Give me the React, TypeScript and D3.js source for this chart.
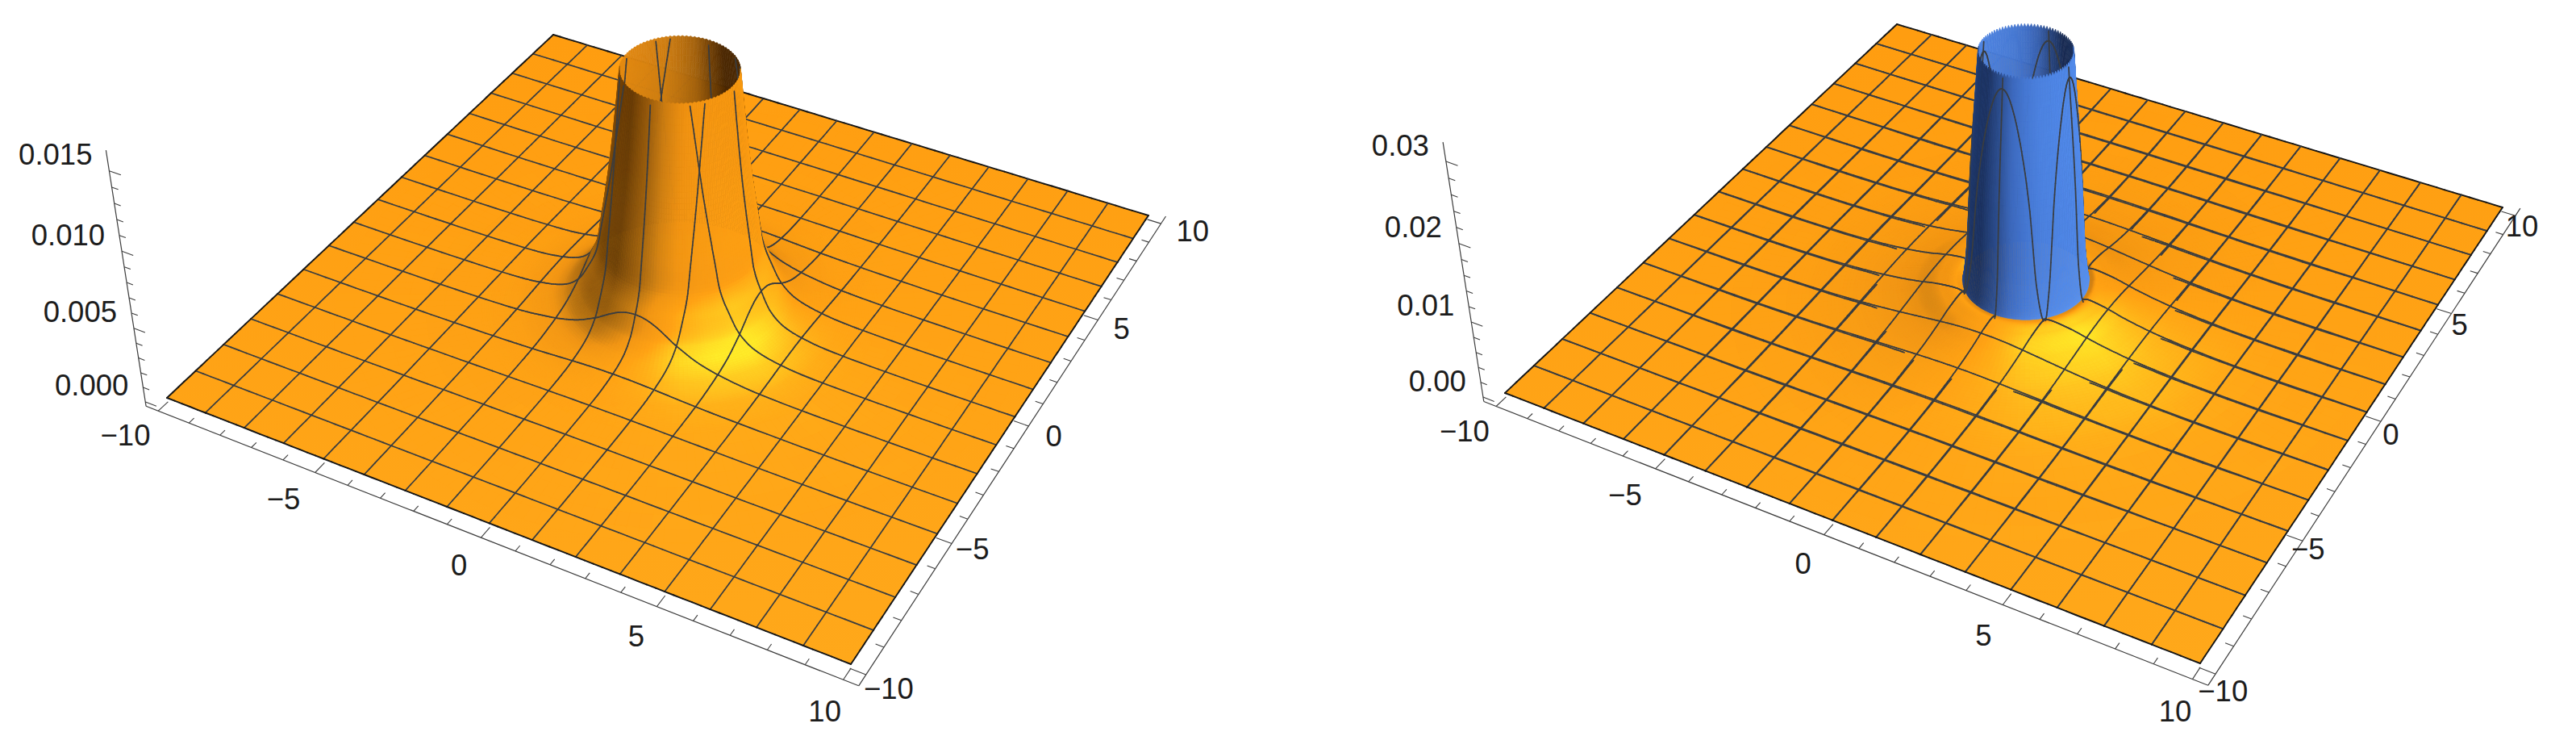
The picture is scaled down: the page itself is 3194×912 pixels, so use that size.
import React, { useMemo } from "react";
import * as d3 from "d3";

// mesh + tick values
const meshLines = d3.range(-8, 9).map((k) => k * 1.25);
const xyTicks = d3.range(-10, 11);
const xyLabels = [-10, -5, 0, 5, 10];

// radial height profiles (radius, height)
const leftR = [0.5, 1, 1.55, 1.87, 2.13, 2.27, 2.5, 2.8, 3.2, 3.7, 4.5, 5.5, 7, 9, 15];
const leftZ = [0.06, 0.03, 0.016, 0.0096, 0.0058, 0.004, 0.0027, 0.0015, 0.0008, 0.00045, 0.0002, 0.0001, 0.00004, 0.00001, 0];
const hillR = [0.5, 1, 1.72, 1.9, 2.3, 3, 3.5, 4.1, 5, 6, 7, 8, 9, 10, 12, 15];
const hillZ = [0.0002, 0.001, 0.0022, 0.0024, 0.0022, 0.0015, 0.0011, 0.00075, 0.00042, 0.0002, 0.0001, 0.00006, 0.00004, 0.00002, 0.00001, 0];
const spikeR = [0.5, 1, 1.21, 1.25, 1.47, 1.6, 1.72, 1.85, 2.1, 3, 4.1, 5, 6, 7, 8, 9, 10, 12, 15];
const spikeZ = [0.2, 0.05, 0.0327, 0.0301, 0.0165, 0.0062, 0.0022, 0.0012, 0.0007, 0.0004, 0.00045, 0.00022, 0.00006, -0.00004, -0.00008, -0.00005, -0.00003, -0.00001, 0];

// shading: azimuth (deg from the viewer direction) -> light amount, for walls and for gentle slopes
const azDeg = [-180, -150, -120, -90, -70, -50, -30, -15, 0, 15, 35, 50, 70, 90, 120, 150, 180];
const azWall = [0.4, 0.2, 0.1, 0.2, 0.08, 0.05, 0.3, 0.55, 0.68, 0.76, 0.8, 0.82, 0.85, 0.85, 0.35, 0.25, 0.4];
const azSlope = [-0.1, -0.3, -0.5, -0.6, -0.6, -0.5, 0.05, 0.35, 0.85, 1.05, 1.2, 0.85, 0.3, -0.1, -0.4, -0.4, -0.1];
const orangeStops = [0, 0.6, 0.8, 1, 1.2, 1.38];
const orangeColors = ["#4a2600", "#c07410", "#f09010", "#ff9d10", "#ffc51c", "#ffe524"];
const blueStops = [0, 0.6, 0.85, 1.1];
const blueColors = ["#16284f", "#3d6abf", "#5088e8", "#62a0ff"];

type Pt = [number, number];
const fmtTick = (s: string) => s.replace("-", "\u2212");

function pchip(xs: number[], ys: number[]) {
  const n = xs.length;
  const h = d3.range(n - 1).map((i) => xs[i + 1] - xs[i]);
  const dl = d3.range(n - 1).map((i) => (ys[i + 1] - ys[i]) / h[i]);
  const m = new Array(n).fill(0);
  m[0] = dl[0];
  m[n - 1] = dl[n - 2];
  for (let i = 1; i < n - 1; i++) {
    if (dl[i - 1] * dl[i] > 0) {
      const w1 = 2 * h[i] + h[i - 1];
      const w2 = h[i] + 2 * h[i - 1];
      m[i] = (w1 + w2) / (w1 / dl[i - 1] + w2 / dl[i]);
    }
  }
  const bis = d3.bisector((d: number) => d).right;
  return (x: number) => {
    if (x <= xs[0]) return ys[0];
    if (x >= xs[n - 1]) return ys[n - 1];
    const i = Math.min(n - 2, bis(xs, x) - 1);
    const t = (x - xs[i]) / h[i];
    const t2 = t * t;
    const t3 = t2 * t;
    return (2 * t3 - 3 * t2 + 1) * ys[i] + (t3 - 2 * t2 + t) * h[i] * m[i] + (-2 * t3 + 3 * t2) * ys[i + 1] + (t3 - t2) * h[i] * m[i + 1];
  };
}

const unit = d3.scaleLinear().domain([-10, 10]).range([0, 1]);
const PAD = 10.4;
const LINE = "#3a3d40";

function makeCamera(q: Pt[], vx: number, vy: number, zRef: number, sRef: number) {
  const [[x0, y0], [x1, y1], [x2, y2], [x3, y3]] = q;
  const dx1 = x1 - x2, dx2 = x3 - x2, sx = x0 - x1 + x2 - x3;
  const dy1 = y1 - y2, dy2 = y3 - y2, sy = y0 - y1 + y2 - y3;
  const den = dx1 * dy2 - dx2 * dy1;
  const g = (sx * dy2 - dx2 * sy) / den;
  const h = (dx1 * sy - sx * dy1) / den;
  const a = x1 - x0 + g * x1, b = x3 - x0 + h * x3, c = x0;
  const d = y1 - y0 + g * y1, e = y3 - y0 + h * y3, f = y0;
  const wA = g * unit(-PAD) + h * unit(-PAD) + 1;
  const cz = (sRef / zRef) * wA;
  const project = (x: number, y: number, z: number): Pt => {
    const u = unit(x), v = unit(y);
    const w = g * u + h * v + 1 + cz * z;
    return [(a * u + b * v + c + vx * cz * z) / w, (d * u + e * v + f + vy * cz * z) / w];
  };
  // ground point below the camera
  const A11 = a - g * vx, A12 = b - h * vx, B1 = vx - c;
  const A21 = d - g * vy, A22 = e - h * vy, B2 = vy - f;
  const D = A11 * A22 - A12 * A21;
  const nu = (B1 * A22 - A12 * B2) / D, nv = (A11 * B2 - A21 * B1) / D;
  const nadir: Pt = [unit.invert(nu), unit.invert(nv)];
  return { project, nadir };
}

type PanelCfg = {
  corners: Pt[]; vx: number; vy: number; zRef: number; sRef: number; z0: number; zAxisTop: number;
  zTop: number; zScale: number; jag: number; main: (r: number) => number; hill?: (r: number) => number;
  zTicks: number[]; zMajor: number[]; zDigits: number;
  xShift: Pt; yShift: Pt; tenShift: number;
};

function buildPanel(p: PanelCfg) {
  const cam = makeCamera(p.corners, p.vx, p.vy, p.zRef, p.sRef);
  const P = cam.project;
  const [nx, ny] = cam.nadir;
  const nl = Math.hypot(nx, ny);
  const fx = nx / nl, fy = ny / nl;
  const rx = -fy, ry = fx;
  const key = (x: number, y: number) => Math.hypot(x - nx, y - ny);
  const wallLight = d3.scaleLinear().domain(azDeg).range(azWall).clamp(true);
  const slopeLight = d3.scaleLinear().domain(azDeg).range(azSlope).clamp(true);
  const orange = d3.scaleLinear<string>().domain(orangeStops).range(orangeColors).interpolate(d3.interpolateRgb).clamp(true);
  const blue = d3.scaleLinear<string>().domain(blueStops).range(blueColors).interpolate(d3.interpolateRgb).clamp(true);
  const shift = d3.scaleLinear().domain([43, 823]).range([0, 11]).clamp(true);

  const hill = p.hill;
  const height = (r: number) => (hill ? Math.max(p.main(r), hill(r)) : p.main(r));
  const bisect = (fn: (r: number) => number, lo: number, hi: number) => {
    for (let i = 0; i < 40; i++) {
      const m = (lo + hi) / 2;
      if (fn(m) > 0) lo = m; else hi = m;
    }
    return (lo + hi) / 2;
  };
  const r0 = bisect((r) => p.main(r) - p.zTop, 0.6, 4);
  const rb = hill ? bisect((r) => p.main(r) - hill(r), r0, 3) : r0;
  const rings = hill
    ? [...d3.range(r0, rb, 0.012), ...d3.range(rb, 3.5, 0.03), ...d3.range(3.5, 6.5, 0.1), ...d3.range(6.5, 9.9, 0.5)]
    : [...d3.range(r0, 3, 0.02), ...d3.range(3, 5.5, 0.06), ...d3.range(5.5, 9.9, 0.5)];
  const nTheta = 180;
  const dTheta = (2 * Math.PI) / nTheta;

  type Item = { k: number; d: string; fill?: string; stroke?: string; w?: number };
  const items: Item[] = [];
  const path = (pts: Pt[]) => "M" + pts.map((q) => q[0].toFixed(1) + " " + q[1].toFixed(1)).join("L");

  for (let ri = 0; ri < rings.length - 1; ri++) {
    const a = rings[ri], b = rings[ri + 1];
    const rc = (a + b) / 2;
    const isTop = !!hill && rc < rb;
    const zNow = isTop || !hill ? p.main : hill;
    const dz = ((zNow(rc + 0.004) - zNow(rc - 0.004)) / 0.008) * p.zScale;
    const za = height(a), zb = height(b);
    for (let i = 0; i < nTheta; i++) {
      const t1 = i * dTheta, t2 = (i + 1) * dTheta, tc = (i + 0.5) * dTheta;
      const zaL = ri === 0 ? za - (i % 2 ? p.jag : 0) : za;
      const zaR = ri === 0 ? za - ((i + 1) % 2 ? p.jag : 0) : za;
      const c1 = Math.cos(t1), s1 = Math.sin(t1), c2 = Math.cos(t2), s2 = Math.sin(t2);
      const q: Pt[] = [
        P(a * c1, a * s1, zaL), P(b * c1, b * s1, zb), P(b * c2, b * s2, zb), P(a * c2, a * s2, zaR),
      ];
      const area = (q[2][0] - q[0][0]) * (q[3][1] - q[1][1]) - (q[3][0] - q[1][0]) * (q[2][1] - q[0][1]);
      const g0 = [P(a * c1, a * s1, 0), P(b * c1, b * s1, 0), P(b * c2, b * s2, 0), P(a * c2, a * s2, 0)];
      const areaG = (g0[2][0] - g0[0][0]) * (g0[3][1] - g0[1][1]) - (g0[3][0] - g0[1][0]) * (g0[2][1] - g0[0][1]);
      const flip = area * areaG < 0 ? -1 : 1;
      const len = Math.hypot(dz, 1);
      let nX = (-dz * Math.cos(tc)) / len, nY = (-dz * Math.sin(tc)) / len, nU = 1 / len;
      nX *= flip; nY *= flip; nU *= flip;
      const nR = nX * rx + nY * ry, nF = nX * fx + nY * fy;
      const tilt = Math.hypot(nR, nF);
      const az = (Math.atan2(nR, nF) * 180) / Math.PI;
      const mix = tilt * tilt;
      const I = nU + tilt * (wallLight(az) * mix + slopeLight(az) * (1 - mix));
      let fill: string;
      if (isTop) fill = blue(I);
      else {
        const col = d3.rgb(orange(I));
        const dG = shift((q[0][1] + q[2][1]) / 2);
        col.g = Math.min(255, col.g + dG);
        col.b = col.b + dG * 0.9;
        fill = col.formatHex();
      }
      items.push({ k: key(rc * Math.cos(tc), rc * Math.sin(tc)), d: path(q) + "Z", fill });
    }
  }

  // mesh lines
  const addLine = (fixed: number, isX: boolean, fn: (r: number) => number, show: (r: number) => boolean, stroke: string, w: number) => {
    let t = -10;
    while (t < 10) {
      const probe = Math.hypot(fixed, t);
      const step = probe < 2.4 ? 0.02 : probe < 5 ? 0.06 : 0.25;
      const t2 = Math.min(10, t + step);
      const pos = (u: number): Pt => (isX ? [fixed, u] : [u, fixed]);
      const [ax, ay] = pos(t), [bx, by] = pos(t2);
      const ra = Math.hypot(ax, ay), rb2 = Math.hypot(bx, by);
      const rm = (ra + rb2) / 2;
      if (ra >= r0 && rb2 >= r0 && show(rm)) {
        const bias = rm > 5 ? 1.6 : 0.2;
        items.push({
          k: key((ax + bx) / 2, (ay + by) / 2) - bias,
          d: path([P(ax, ay, fn(ra)), P(bx, by, fn(rb2))]),
          stroke, w,
        });
      }
      t = t2;
    }
  };
  for (const v of meshLines) {
    const edge = Math.abs(v) === 10;
    const s = edge ? "#161616" : LINE;
    const w = edge ? 1.9 : 1.7;
    for (const isX of [true, false]) {
      if (hill) {
        const h = hill, m = p.main;
        addLine(v, isX, h, (r) => h(r) >= m(r), s, w);
        if (!edge) addLine(v, isX, m, (r) => m(r) >= h(r) - 0.0003, s, w);
      } else addLine(v, isX, p.main, () => true, s, w);
    }
  }
  items.sort((a, b) => b.k - a.k);

  // axes
  const ax: Item[] = [];
  const axLine = (a: Pt, b: Pt, w = 1.2) => ax.push({ k: 0, d: path([a, b]), stroke: "#3d3d3d", w });
  axLine(P(-PAD, -PAD, p.z0), P(PAD, -PAD, p.z0));
  axLine(P(PAD, -PAD, p.z0), P(PAD, PAD, p.z0));
  axLine(P(-PAD, -PAD, p.z0), P(-PAD, -PAD, p.zAxisTop));
  for (const t of xyTicks) {
    const maj = xyLabels.includes(t);
    const l = maj ? 0.42 : 0.22;
    axLine(P(t, -PAD, p.z0), P(t, -PAD + l, p.z0), 1.1);
    axLine(P(PAD, t, p.z0), P(PAD - l, t, p.z0), 1.1);
  }
  for (const z of p.zTicks) {
    const maj = p.zMajor.includes(z);
    const l = maj ? 0.36 : 0.2;
    axLine(P(-PAD, -PAD, z), P(-PAD + l, -PAD, z), 1.1);
  }
  const labels: { x: number; y: number; s: string; anchor: string }[] = [];
  for (const t of xyLabels) {
    const a = P(t, -PAD - 1.25, p.z0);
    labels.push({ x: a[0] + p.xShift[0] - (t < 0 ? 10 : 0), y: a[1] + p.xShift[1], s: fmtTick(String(t)), anchor: "middle" });
    const b = P(PAD + 1.25, t, p.z0);
    labels.push({
      x: b[0] + p.yShift[0] - (t < 0 ? 8 : 0) + (t === 10 ? p.tenShift : 0),
      y: b[1] + p.yShift[1] - (t === -5 ? 8 : 0),
      s: fmtTick(String(t)), anchor: "middle",
    });
  }
  for (const z of p.zMajor) {
    const a = P(-PAD, -PAD, z);
    labels.push({ x: a[0] - 21, y: a[1] - 20, s: z.toFixed(p.zDigits), anchor: "end" });
  }
  const ground = path(p.corners) + "Z";
  return { items, ax, labels, ground };
}

const leftCorners: Pt[] = [[207, 493], [1055, 823], [1424, 267], [686, 43]];
const rightCorners: Pt[] = [[1866, 487], [2728, 822], [3103, 257], [2352, 30]];
const leftZTicks = d3.range(0, 16).map((i) => i / 1000);
const leftZMajor = [0, 0.005, 0.01, 0.015];
const rightZTicks = d3.range(0, 16).map((i) => (i * 2) / 1000);
const rightZMajor = [0, 0.01, 0.02, 0.03];

function Panel({ cfg, id }: { cfg: PanelCfg; id: string }) {
  const b = useMemo(() => buildPanel(cfg), [cfg]);
  return (
    <g>
      <defs>
        <linearGradient id={id} gradientUnits="userSpaceOnUse" x1="0" x2="0" y1="43" y2="823">
          <stop offset="0" stopColor="#ff9d10" />
          <stop offset="1" stopColor="#ffa81a" />
        </linearGradient>
      </defs>
      {b.ax.map((l, i) => (
        <path key={i} d={l.d} stroke={l.stroke} strokeWidth={l.w} fill="none" />
      ))}
      <path d={b.ground} fill={`url(#${id})`} />
      {b.items.map((it, i) =>
        it.fill ? (
          <path key={i} d={it.d} fill={it.fill} stroke={it.fill} strokeWidth={0.6} />
        ) : (
          <path key={i} d={it.d} fill="none" stroke={it.stroke} strokeWidth={it.w} strokeLinecap="round" />
        )
      )}
      {b.labels.map((t, i) => (
        <text key={i} x={t.x} y={t.y} textAnchor={t.anchor} dominantBaseline="central" fontFamily="'Liberation Sans', Arial, sans-serif" fontSize={36.5} fill="#1c1c1c">
          {t.s}
        </text>
      ))}
    </g>
  );
}

const leftCfg: PanelCfg = {
  corners: leftCorners, vx: 842, vy: 4720, zRef: 0.015, sRef: -0.0635, z0: -0.0003, zAxisTop: 0.01625,
  zTop: 0.0155, zScale: 8 / 0.0165, jag: 0.00006, main: pchip(leftR, leftZ),
  zTicks: leftZTicks, zMajor: leftZMajor, zDigits: 3, xShift: [6, -4], yShift: [-24, -6], tenShift: 12,
};
const rightCfg: PanelCfg = {
  corners: rightCorners, vx: 2511, vy: 4754, zRef: 0.03, sRef: -0.0641, z0: -0.0006, zAxisTop: 0.0323,
  zTop: 0.0319, zScale: 8 / 0.02, jag: 0.0004, main: pchip(spikeR, spikeZ), hill: pchip(hillR, hillZ),
  zTicks: rightZTicks, zMajor: rightZMajor, zDigits: 2, xShift: [8, -4], yShift: [-44, -3], tenShift: 0,
};

export default function App() {
  return (
    <svg width={3194} height={912} viewBox="0 0 3194 912" style={{ position: "absolute", left: 0, top: 0, background: "#fff", display: "block" }}>
      <Panel cfg={leftCfg} id="gl" />
      <Panel cfg={rightCfg} id="gr" />
    </svg>
  );
}
